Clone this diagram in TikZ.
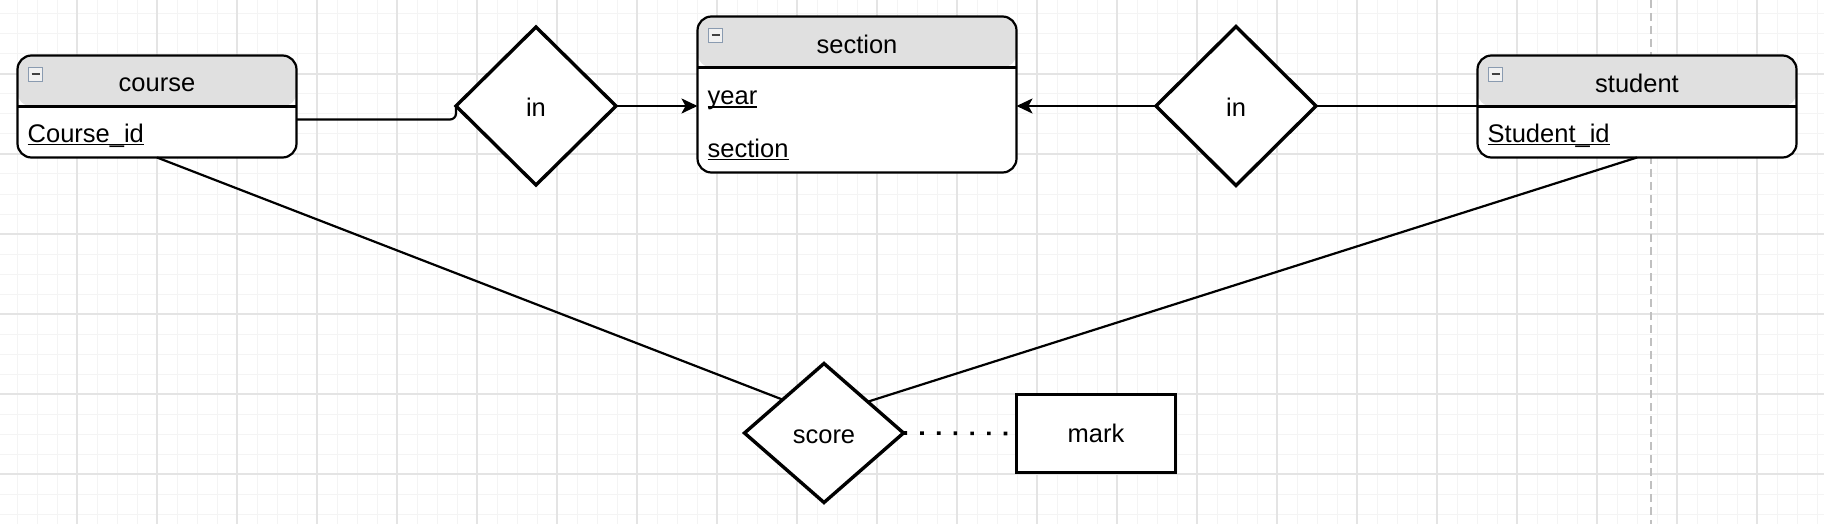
\documentclass[tikz,border=0pt]{standalone}
\usepackage{fontspec}
\setmainfont{Liberation Sans}
\usetikzlibrary{arrows.meta,calc,positioning,shapes.geometric}
\definecolor{hdrgray}{HTML}{E0E0E0}
\definecolor{gridmajor}{HTML}{E4E4E4}
\definecolor{gridminor}{HTML}{F4F4F4}
\definecolor{guidegray}{HTML}{C0C0C0}
\definecolor{iconblue}{HTML}{8A9BB0}

\newcommand{\erfont}{\fontsize{25.5}{30}\selectfont}
\newcommand{\pkey}[1]{\setbox0\hbox{#1}\rlap{\rule[-3pt]{\wd0}{1.5pt}}\box0}
\newcommand{\collapsebox}[1]{%
  \draw[iconblue,fill=gray!12,line width=1.2pt] ($(#1.north west)+(11,12)$) rectangle ++(14,14);
  \draw[black!75,line width=2pt] ($(#1.north west)+(14,19)$) -- ++(8,0);}

\begin{document}
\begin{tikzpicture}[x=1pt,y=-1pt,>={Stealth[length=16pt,width=15pt,inset=4pt]},
  entity/.style={draw,fill=white,line width=2.2pt,rounded corners=14pt,inner sep=0pt,outer sep=0pt,
    path picture={\fill[hdrgray] (path picture bounding box.north west)
      rectangle ([yshift=-51pt]path picture bounding box.north east);}},
  relation/.style={diamond,draw,fill=white,line width=3.4pt,inner sep=0pt,outer sep=0pt,font=\erfont,
    text height=20.6pt,text depth=0pt},
  title/.style={font=\erfont,inner sep=0pt},
  attr/.style={font=\erfont,anchor=west,inner sep=0pt},
  link/.style={line width=2.2pt},
  dotlink/.style={line width=3.6pt,dash pattern=on 3.6pt off 13.1pt}]
  \useasboundingbox (0,0) rectangle (1824,524);
  \fill[white] (0,0) rectangle (1824,524);
  % background grid
  \foreach \gx in {17,37,...,1817} \draw[gridminor,line width=1pt] (\gx,0) -- (\gx,524);
  \foreach \gy in {14,34,...,514} \draw[gridminor,line width=1pt] (0,\gy) -- (1824,\gy);
  \foreach \gx in {77,157,...,1797} \draw[gridmajor,line width=1.2pt] (\gx,0) -- (\gx,524);
  \foreach \gy in {74,154,...,474} \draw[gridmajor,line width=1.2pt] (0,\gy) -- (1824,\gy);
  \draw[guidegray,line width=2pt,dash pattern=on 8pt off 5pt] (1651,0) -- (1651,524);

  % entities
  \node[entity,minimum width=279pt,minimum height=102pt] (course) at (157,106.5) {};
  \node[entity,minimum width=319pt,minimum height=156pt] (section) at (857,94.5) {};
  \node[entity,minimum width=319pt,minimum height=102pt] (student) at (1637,106.5) {};
  \foreach \ent in {course,section,student}{
    \draw[line width=2.2pt] ([yshift=-51pt]\ent.north west) -- ([yshift=-51pt]\ent.north east);
    \collapsebox{\ent}
  }
  \node[title] (course-title) at ([yshift=-29pt]course.north) {course};
  \node[title] (section-title) at ([yshift=-28pt]section.north) {section};
  \node[title] (student-title) at ([yshift=-28pt]student.north) {student};
  \node[attr] (course-id) at ([xshift=10pt,yshift=-80pt]course.north west) {\pkey{Course\_id}};
  \node[attr] (section-year) at ([xshift=10pt,yshift=-84pt]section.north west) {\pkey{year}};
  \node[attr] (section-no) at ([xshift=10pt,yshift=-133pt]section.north west) {\pkey{section}};
  \node[attr] (student-id) at ([xshift=10pt,yshift=-80pt]student.north west) {\pkey{Student\_id}};

  % relationships
  \node[relation,minimum width=160pt,minimum height=158pt] (in-course) at (536,106) {in};
  \node[relation,minimum width=160pt,minimum height=159pt] (in-student) at (1236,106) {in};
  \node[relation,minimum width=159pt,minimum height=139pt] (score) at (824,433) {score};
  \node[draw,line width=3.4pt,fill=white,minimum width=159pt,minimum height=78pt,font=\erfont] (mark) at (1096,433.5) {mark};

  % connectors
  \draw[link,rounded corners=6pt] ([yshift=-64pt]course.north east) -| (in-course.west);
  \draw[link,->] (in-course.east) -- (in-course.east -| section.west);
  \draw[link,->] (in-student.west) -- (in-student.west -| section.east);
  \draw[link] (in-student.east) -- (in-student.east -| student.west);
  \draw[link] (course.south) -- ($(score.west)!0.48!(score.north)$);
  \draw[link] (student.south) -- ($(score.north)!0.55!(score.east)$);
  \draw[dotlink] (score.east) -- (mark.west);
\end{tikzpicture}
\end{document}
